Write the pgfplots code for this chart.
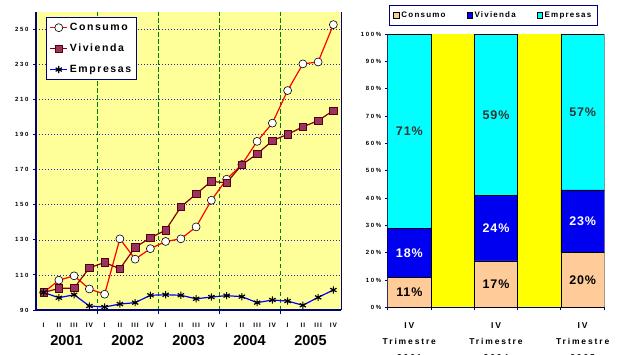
\documentclass[border=0pt]{standalone}
\usepackage{fontspec}
\setmainfont{Liberation Sans}
\newfontfamily\lgfont[LetterSpace=15]{Liberation Sans}
\newfontfamily\tkfont[LetterSpace=28]{Liberation Sans}
\newfontfamily\catfont[LetterSpace=22]{Liberation Sans}
\newfontfamily\valfont[LetterSpace=7]{Liberation Sans}
\usepackage{pgfplots}
\usepackage{pgfplotstable}
\pgfplotsset{compat=1.18}

\definecolor{plotbg}{HTML}{FFFF99}
\definecolor{navy}{HTML}{000080}
\definecolor{consline}{HTML}{FF0000}
\definecolor{viviline}{HTML}{800000}
\definecolor{vivifill}{HTML}{993366}
\definecolor{empline}{HTML}{0000FF}
\definecolor{gridgreen}{HTML}{008000}
\definecolor{gridblue}{HTML}{2020C0}
\definecolor{peach}{HTML}{FFCC99}
\definecolor{vivbar}{HTML}{0000F0}
\definecolor{empbar}{HTML}{00FFFF}
\definecolor{baryellow}{HTML}{FFFF00}
\definecolor{darktext}{HTML}{333333}

\tikzset{
  year/.style={font=\bfseries\fontsize{14.5}{16}\selectfont, yshift=-31pt},
  val/.style={font=\valfont\bfseries\fontsize{12.5}{14}\selectfont, anchor=center},
}

% Indices trimestrales (2001 I = 100)
\pgfplotstableread{
q  consumo vivienda empresas
1  100.0   100.0    100.0
2  107.0   102.3     97.0
3  109.5   102.5     98.7
4  102.0   114.1     92.3
5   99.0   117.1     91.7
6  130.6   113.5     93.4
7  119.0   125.7     94.2
8  125.0   131.2     98.4
9  129.1   135.5     98.7
10 130.6   148.8     98.4
11 137.4   156.2     96.4
12 152.6   163.4     97.4
13 164.6   162.5     98.2
14 173.0   172.9     97.6
15 186.2   179.0     94.2
16 196.6   186.6     95.7
17 215.2   190.2     95.1
18 230.4   194.5     92.7
19 231.5   198.0     97.2
20 252.8   203.8    101.4
}\trimestral

% Estructura del saldo (%), IV trimestre
\pgfplotstableread{
x consumo vivienda empresas
1 11 18 71
3 17 24 59
5 20 23 57
}\estructura

\begin{document}
\begin{tikzpicture}
\useasboundingbox (0pt,0pt) rectangle (618pt,354pt);

% ---------- Evolucion trimestral ----------
\begin{axis}[
  at={(36pt,44pt)}, anchor=south west,
  scale only axis, width=305pt, height=298pt,
  xmin=0.5, xmax=20.5, ymin=90, ymax=260,
  clip=false,
  axis background/.style={fill=plotbg},
  axis x line*=bottom, axis y line*=left,
  axis line style={navy, line width=1.3pt},
  xtick={1,...,20},
  xticklabels={I,II,III,IV,I,II,III,IV,I,II,III,IV,I,II,III,IV,I,II,III,IV},
  minor xtick={4.5,8.5,12.5,16.5},
  xminorgrids, ymajorgrids,
  minor grid style={gridgreen, line width=0.8pt, dash pattern=on 4.5pt off 2.5pt},
  major grid style={gridblue, line width=0.7pt, dash pattern=on 0.8pt off 2.2pt},
  every major x tick/.append style={draw=none},
  every minor x tick/.append style={navy, line width=1pt},
  every major y tick/.append style={navy, line width=1pt},
  minor tick length=4pt, major tick length=3pt,
  tick align=outside,
  ytick={90,110,...,250},
  yticklabels={90,110,130,150,170,190,210,230,250},
  y tick label style={font=\tkfont\bfseries\fontsize{6}{7}\selectfont, xshift=-1pt},
  x tick label style={font=\lgfont\bfseries\fontsize{6.5}{7}\selectfont, anchor=center, yshift=-12pt},
  legend style={at={(0.032,0.982)}, anchor=north west, draw=navy, line width=0.8pt,
    fill=white, font=\lgfont\bfseries\fontsize{10.5}{12}\selectfont,
    row sep=8pt, inner sep=3.5pt},
  legend cell align=left,
]
\addplot[consline, line width=1.2pt, mark=*, mark size=4pt,
  mark options={fill=white, draw=black, line width=0.6pt}]
  table[x=q, y=consumo] {\trimestral};
\addlegendentry{Consumo}
\addplot[viviline, line width=1.2pt, mark=square*, mark size=3.7pt,
  mark options={fill=vivifill, draw=viviline!70!black, line width=0.6pt}]
  table[x=q, y=vivienda] {\trimestral};
\addlegendentry{Vivienda}
\addplot[empline, line width=1.2pt, mark=asterisk, mark size=3.6pt,
  mark options={draw=black, line width=1.2pt}]
  table[x=q, y=empresas] {\trimestral};
\addlegendentry{Empresas}
\draw[navy, line width=0.6pt] (rel axis cs:1,0) -- (rel axis cs:1,1);
\node[year] at (axis cs:2.5,90) {2001};
\node[year] at (axis cs:6.5,90) {2002};
\node[year] at (axis cs:10.5,90) {2003};
\node[year] at (axis cs:14.5,90) {2004};
\node[year] at (axis cs:18.5,90) {2005};
\end{axis}

% ---------- Estructura por destino ----------
\begin{axis}[
  at={(387.7pt,46.7pt)}, anchor=south west,
  scale only axis, width=216.6pt, height=273pt,
  xmin=0.5, xmax=5.5, ymin=0, ymax=100,
  axis background/.style={fill=baryellow},
  axis x line*=bottom, axis y line*=left,
  axis line style={navy, line width=1pt},
  ybar stacked, bar width=1,
  xtick={1,3,5},
  xticklabels={{IV\\Trimestre\\2001},{IV\\Trimestre\\2004},{IV\\Trimestre\\2005}},
  x tick label style={align=center, font=\catfont\bfseries\fontsize{8.5}{16}\selectfont, yshift=-9pt},
  minor xtick={0.5,1.5,...,5.5},
  every major x tick/.append style={draw=none},
  every minor x tick/.append style={navy, line width=1pt},
  every major y tick/.append style={navy, line width=1pt},
  minor tick length=3pt, major tick length=3pt,
  tick align=outside,
  ytick={0,10,...,100},
  yticklabels={0\%,10\%,20\%,30\%,40\%,50\%,60\%,70\%,80\%,90\%,100\%},
  y tick label style={font=\tkfont\bfseries\fontsize{6}{7}\selectfont},
  legend style={at={(0.488,1.069)}, anchor=center, draw=navy, line width=0.8pt,
    fill=white, font=\lgfont\bfseries\fontsize{8}{9}\selectfont,
    legend columns=3, inner sep=4pt,
    /tikz/every even column/.append style={column sep=19pt}},
  legend image code/.code={\draw[#1, draw=black, line width=0.4pt] (0pt,-2.8pt) rectangle (5.6pt,2.8pt);},
]
\addplot[fill=peach, draw=black, line width=0.5pt]
  table[x=x, y=consumo] {\estructura};
\addlegendentry{Consumo}
\addplot[fill=vivbar, draw=black, line width=0.5pt]
  table[x=x, y=vivienda] {\estructura};
\addlegendentry{Vivienda}
\addplot[fill=empbar, draw=black, line width=0.5pt]
  table[x=x, y=empresas] {\estructura};
\addlegendentry{Empresas}
% middle of each stacked segment, for the share labels
\coordinate (c11) at (axis cs:1,5.5);
\coordinate (v11) at (axis cs:1,20);
\coordinate (e11) at (axis cs:1,64.5);
\coordinate (c14) at (axis cs:3,8.5);
\coordinate (v14) at (axis cs:3,29);
\coordinate (e14) at (axis cs:3,70.5);
\coordinate (c15) at (axis cs:5,10);
\coordinate (v15) at (axis cs:5,31.5);
\coordinate (e15) at (axis cs:5,71.5);
\end{axis}
\node[val, text=black]    at (c11) {11\%};
\node[val, text=white]    at (v11) {18\%};
\node[val, text=darktext] at (e11) {71\%};
\node[val, text=black]    at (c14) {17\%};
\node[val, text=white]    at (v14) {24\%};
\node[val, text=darktext] at (e14) {59\%};
\node[val, text=black]    at (c15) {20\%};
\node[val, text=white]    at (v15) {23\%};
\node[val, text=darktext] at (e15) {57\%};
\end{tikzpicture}
\end{document}
